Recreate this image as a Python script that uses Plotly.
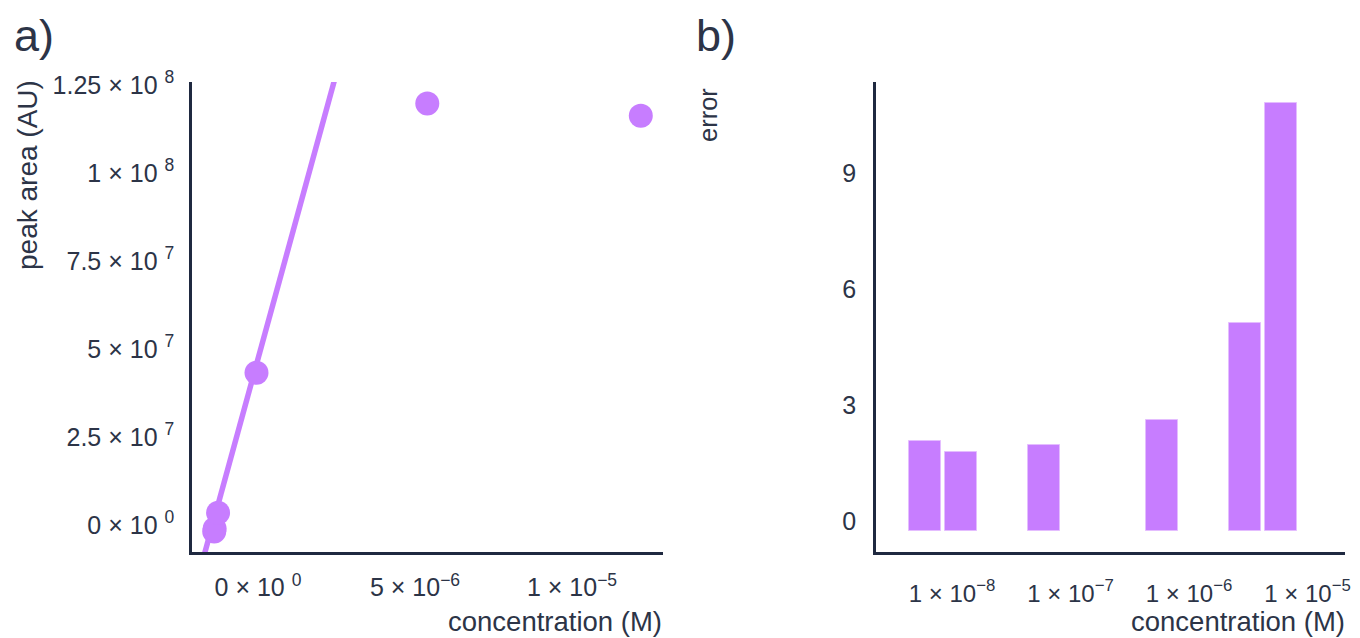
import numpy as np
import plotly.graph_objects as go

# ---- data ----
concentration = [1e-8, 2e-8, 1e-7, 1e-6, 5e-6, 1e-5]            # M
peak_area = [1.0e6, 1.8e6, 6.3e6, 46.1e6, 122.6e6, 119.1e6]      # AU
fit_conc = [-2.5e-7, 3.0e-6]                                     # fitted line ends (clipped by axes)
fit_area = [-6.8e6, 136.9e6]
error = [2.33, 2.05, 2.22, 2.87, 5.38, 11.06]

peak_ticks = [0, 2.5e7, 5e7, 7.5e7, 1e8, 1.25e8]
peak_ticktext = ["0 × 10 <sup>0</sup>", "2.5 × 10 <sup>7</sup>", "5 × 10 <sup>7</sup>",
                 "7.5 × 10 <sup>7</sup>", "1 × 10 <sup>8</sup>", "1.25 × 10 <sup>8</sup>"]
conc_ticks = [0, 5e-6, 1e-5]
conc_ticktext = ["0 × 10 <sup>0</sup>", "5 × 10<sup>−6</sup>", "1 × 10<sup>−5</sup>"]
log_ticks = [1e-8, 1e-7, 1e-6, 1e-5]
log_ticktext = ["1 × 10<sup>−8</sup>", "1 × 10<sup>−7</sup>", "1 × 10<sup>−6</sup>", "1 × 10<sup>−5</sup>"]
err_ticks = [0, 3, 6, 9]

PURPLE = "#c77dff"
AXIS = "#1f2940"
TEXT = "#2c3447"
FONT = "Liberation Sans, Arial, sans-serif"
OFF = 8                      # page body margin in the browser
W, H = 1360 - OFF, 638 - OFF

fig = go.Figure()
fig.add_trace(go.Scatter(x=fit_conc, y=fit_area, mode="lines",
                         line=dict(color=PURPLE, width=5.5), xaxis="x", yaxis="y",
                         showlegend=False, hoverinfo="skip"))
fig.add_trace(go.Scatter(x=concentration, y=peak_area, mode="markers",
                         marker=dict(color=PURPLE, size=24), xaxis="x", yaxis="y",
                         showlegend=False))
# label axis for panel a) (empty trace so the overlay axis is drawn)
fig.add_trace(go.Scatter(x=[None], y=[None], xaxis="x3", yaxis="y", showlegend=False,
                         hoverinfo="skip"))
fig.add_trace(go.Bar(x=np.log10(concentration), y=error, width=0.27,
                     marker=dict(color=PURPLE, line=dict(color="#e4bdff", width=1)),
                     xaxis="x2", yaxis="y2", showlegend=False))

def px_x(p):
    return (p - OFF) / W

def px_y(p):
    return 1 - (p - OFF) / H

tickfont = dict(family=FONT, size=25, color=TEXT)
common = dict(showgrid=False, zeroline=False, showline=True, linecolor=AXIS,
              linewidth=2.5, ticks="", tickfont=tickfont, automargin=False)

fig.update_layout(
    width=W, height=H, margin=dict(l=0, r=0, t=0, b=0, autoexpand=False),
    paper_bgcolor="white", plot_bgcolor="white",
    font=dict(family=FONT, color=TEXT),
    xaxis=dict(domain=[px_x(192), px_x(663)], range=[-0.5105e-6, 10.52e-6],
               anchor="y", showticklabels=False, **common),
    xaxis3=dict(overlaying="x", anchor="y", range=[-2.102e-6, 12.898e-6],
                showgrid=False, zeroline=False, showline=False, ticks="", automargin=False,
                tickvals=conc_ticks, ticktext=conc_ticktext, tickfont=tickfont,
                ticklabelstandoff=18),
    yaxis=dict(domain=[px_y(552), px_y(82)], range=[-4.83e6, 128.69e6], anchor="x",
               tickvals=peak_ticks, ticktext=peak_ticktext, ticklabelshift=-10,
               ticklabelstandoff=10, **common),
    xaxis2=dict(domain=[px_x(876), px_x(1345)], range=[-8.4135, -4.456], anchor="y2",
                tickvals=list(np.log10(log_ticks)), ticktext=log_ticktext,
                ticklabelshift=27, ticklabelstandoff=18,
                **{**common, "tickfont": dict(family=FONT, size=24, color=TEXT)}),
    yaxis2=dict(domain=[px_y(552), px_y(82)], range=[-0.543, 11.61], anchor="x2",
                tickvals=err_ticks, ticktext=[str(v) for v in err_ticks],
                ticklabelshift=-10, ticklabelstandoff=12, **common),
    bargap=0,
)

ann = []
ann.append(dict(text="a)", x=px_x(12), y=px_y(36), xanchor="left", yanchor="middle",
                font=dict(size=45, color=TEXT, family=FONT)))
ann.append(dict(text="b)", x=px_x(694), y=px_y(36), xanchor="left", yanchor="middle",
                font=dict(size=45, color=TEXT, family=FONT)))
ann.append(dict(text="peak area (AU)", x=px_x(27), y=px_y(78), xanchor="center",
                yanchor="top", textangle=-90, font=dict(size=28, color=TEXT, family=FONT)))
ann.append(dict(text="error", x=px_x(708), y=px_y(86), xanchor="center",
                yanchor="top", textangle=-90, font=dict(size=25.5, color=TEXT, family=FONT)))
ann.append(dict(text="concentration (M)", x=px_x(664), y=px_y(621), xanchor="right",
                yanchor="middle", font=dict(size=27.5, color=TEXT, family=FONT)))
ann.append(dict(text="concentration (M)", x=px_x(1347), y=px_y(621), xanchor="right",
                yanchor="middle", font=dict(size=27.5, color=TEXT, family=FONT)))
for a in ann:
    a.update(xref="paper", yref="paper", showarrow=False)
fig.update_layout(annotations=ann)

fig.write_html("out.html")
